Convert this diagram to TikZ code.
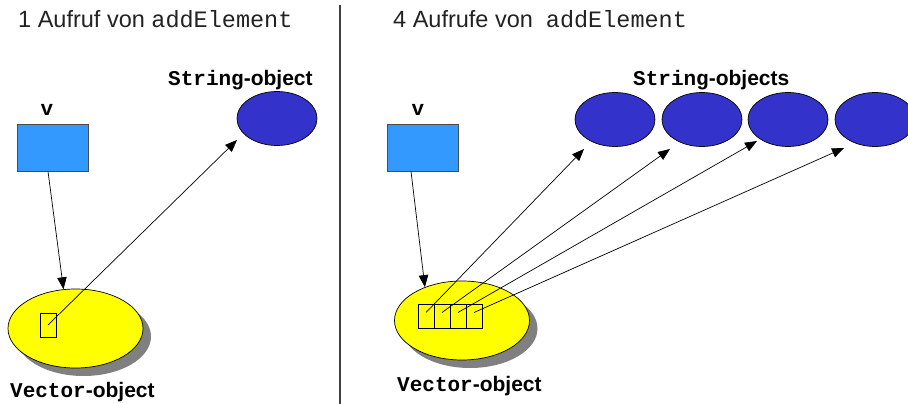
\documentclass[tikz,border=0pt]{standalone}
\usepackage{fontspec}
\setmainfont{Liberation Sans}
\setmonofont{Liberation Mono}
\usetikzlibrary{shapes.geometric,arrows.meta,calc,shadows}
\definecolor{strblue}{HTML}{3333CC}
\definecolor{vecblue}{HTML}{3399FF}
\definecolor{vyellow}{HTML}{FFFF00}
\definecolor{shadowgray}{HTML}{808080}
\definecolor{titlegray}{HTML}{222222}
\begin{document}
\begin{tikzpicture}[x=1pt,y=-1pt,
  title/.style={anchor=base west, inner sep=0, font=\fontsize{23.5}{28}\selectfont, text=titlegray},
  lbl/.style={anchor=base west, inner sep=0, font=\fontsize{21}{25}\selectfont\bfseries},
  vlbl/.style={anchor=base, inner sep=0, font=\fontsize{21}{25}\selectfont\bfseries\ttfamily},
  strobj/.style={ellipse, draw=black, line width=0.7pt, fill=strblue, minimum width=80pt, minimum height=54pt, inner sep=0},
  vecobj/.style={ellipse, draw=black, line width=0.7pt, fill=vyellow, minimum width=135pt, minimum height=79pt, inner sep=0,
     drop shadow={shadow xshift=8pt, shadow yshift=-8pt, opacity=1, fill=shadowgray}},
  refbox/.style={rectangle, draw=black!70, line width=0.8pt, fill=vecblue, minimum width=71pt, minimum height=47pt, inner sep=0},
  cell/.style={rectangle, draw=black, line width=0.7pt, minimum width=16pt, minimum height=24pt, inner sep=0},
  conn/.style={line width=0.7pt, -{Triangle[length=12pt,width=9.5pt]}},
  divider/.style={line width=1.2pt, draw=black!75}
]
\useasboundingbox (0,0) rectangle (908,404);

% divider
\coordinate (dtop) at (340,5);
\coordinate (dbot) at (340,404);
\draw[divider] (dtop) -- (dbot);

% ---------- left panel ----------
\node[title] (t1) at (18,28) {1 Aufruf von \texttt{addElement}};
\node[lbl] (sl1) at (168,85) {\texttt{String}-object};
\node[strobj] (s0) at (277,118.5) {};
\node[vlbl] (vl1) at (47,115) {v};
\node[refbox] (v1) at (52.5,147.5) {};
\node[vecobj] (ve1) at (75.5,328.5) {};
\node[cell] (c0) at (48,325) {};
\node[lbl] (vo1) at (10,397) {\texttt{Vector}-object};

\coordinate (tip0) at (237,140);
\draw[conn] ($(v1.south)+(-4.5,0)$) -- (ve1.107);
\draw[conn] (c0.center) -- (tip0);

% ---------- right panel ----------
\node[title] (t2) at (393,28) {4 Aufrufe von\hspace{0.55em}\texttt{addElement}};
\node[lbl] (sl2) at (633,85) {\texttt{String}-objects};
\node[strobj] (s1) at (615,119.5) {};
\node[strobj] (s2) at (702,119.5) {};
\node[strobj] (s3) at (788,119.5) {};
\node[strobj] (s4) at (875,119.5) {};
\node[vlbl] (vl2) at (418,115) {v};
\node[refbox] (v2) at (422.5,147.5) {};
\node[vecobj] (ve2) at (462,320.5) {};
\node[cell] (c1) at (426,316.5) {};
\node[cell] (c2) at (442,316.5) {};
\node[cell] (c3) at (458,316.5) {};
\node[cell] (c4) at (474,316.5) {};
\node[lbl] (vo2) at (397,391) {\texttt{Vector}-object};

\coordinate (tip1) at (584,149);
\coordinate (tip2) at (670,149);
\coordinate (tip3) at (757,141);
\coordinate (tip4) at (844,148);
\draw[conn] ($(v2.south)+(-11.5,0)$) -- (ve2.138);
\draw[conn] ($(c1.center)+(0,-4)$) -- (tip1);
\draw[conn] ($(c2.center)+(0,-4)$) -- (tip2);
\draw[conn] ($(c3.center)+(0,-4)$) -- (tip3);
\draw[conn] ($(c4.center)+(0,-4)$) -- (tip4);
\end{tikzpicture}
\end{document}
